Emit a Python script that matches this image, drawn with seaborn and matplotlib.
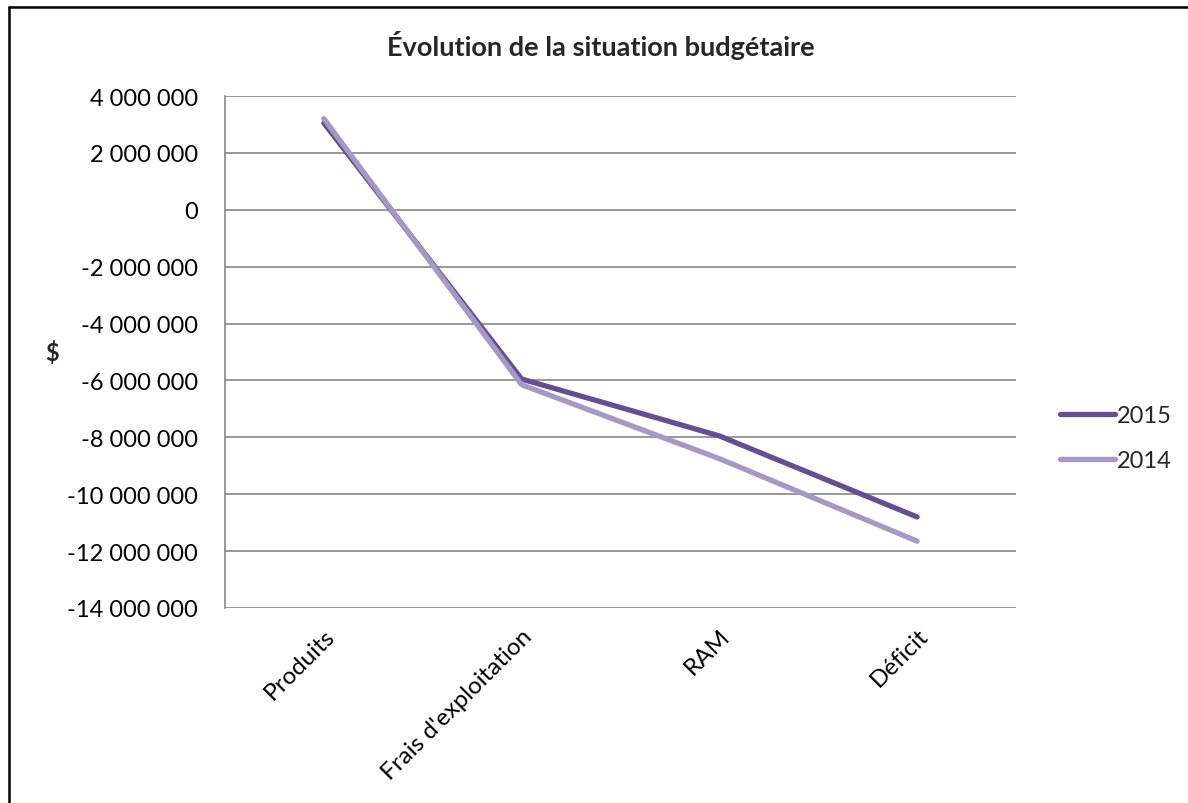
import matplotlib
matplotlib.use("Agg")
import matplotlib.pyplot as plt
import seaborn as sns
import pandas as pd
from matplotlib.ticker import FuncFormatter, MultipleLocator
from matplotlib.lines import Line2D

categories = ["Produits", "Frais d'exploitation", "RAM", "Déficit"]
values_2015 = [3050000, -5950000, -7950000, -10800000]
values_2014 = [3200000, -6150000, -8750000, -11650000]
series_names = ["2015", "2014"]
title = "Évolution de la situation budgétaire"
ylabel = "$"

df = pd.DataFrame({
    "cat": categories * 2,
    "val": values_2015 + values_2014,
    "year": [series_names[0]] * 4 + [series_names[1]] * 4,
})

sns.set_theme(style="white")
plt.rcParams['font.family'] = ['Lato', 'DejaVu Sans']

fig = plt.figure(figsize=(11.88, 8.04), dpi=100)
ax = fig.add_axes([225/1188, 1-609/804, (1016-225)/1188, (609-97)/804])

palette = {"2015": "#654F90", "2014": "#A698C4"}
sns.lineplot(data=df, x="cat", y="val", hue="year", hue_order=series_names,
             palette=palette, sort=False, linewidth=3.8, ax=ax, legend=False,
             solid_capstyle="round", zorder=3)

ax.set_xlim(-0.5, 3.5)
ax.set_ylim(-14000000, 4000000)
ax.yaxis.set_major_locator(MultipleLocator(2000000))
ax.yaxis.set_major_formatter(FuncFormatter(
    lambda v, p: f"{int(round(v)):,}".replace(",", " ")))
ax.grid(axis="y", color="#868686", linewidth=1.2, zorder=1)
ax.grid(axis="x", visible=False)
for s in ["top", "right", "bottom"]:
    ax.spines[s].set_visible(False)
ax.spines["left"].set_color("#868686")
ax.spines["left"].set_linewidth(1.2)
ax.tick_params(axis="both", length=0, colors="black")
ax.tick_params(axis="y", pad=19.5, labelsize=17)
ax.set_xlabel("")
ax.set_ylabel("")
ax.set_xticks(range(len(categories)))
ax.set_xticklabels(categories, rotation=45, ha="right", rotation_mode="anchor",
                   fontsize=17.5)
ax.tick_params(axis="x", pad=12)

fig.text(601/1188, 1-45/804, title, ha="center", va="center",
         fontsize=19.5, fontweight="bold")
fig.text(52/1188, 1-353/804, ylabel, ha="center", va="center",
         fontsize=17, fontweight="bold")

handles = [Line2D([0], [0], color=palette[n], lw=3.8, solid_capstyle="round")
           for n in series_names]
fig.legend(handles, series_names, loc="center left",
           bbox_to_anchor=(1039/1188, 1-439/804), frameon=False,
           fontsize=17, handlelength=2.3, handletextpad=0.1,
           labelspacing=1.0)

# outer chart border (left and top visible)
fig.add_artist(Line2D([8.5/1188, 8.5/1188], [0, 1-8/804], color="black", lw=1.8,
                      transform=fig.transFigure))
fig.add_artist(Line2D([8.5/1188, 1], [1-8/804, 1-8/804], color="black", lw=1.8,
                      transform=fig.transFigure))

fig.savefig("out.png", dpi=100, facecolor="white")
